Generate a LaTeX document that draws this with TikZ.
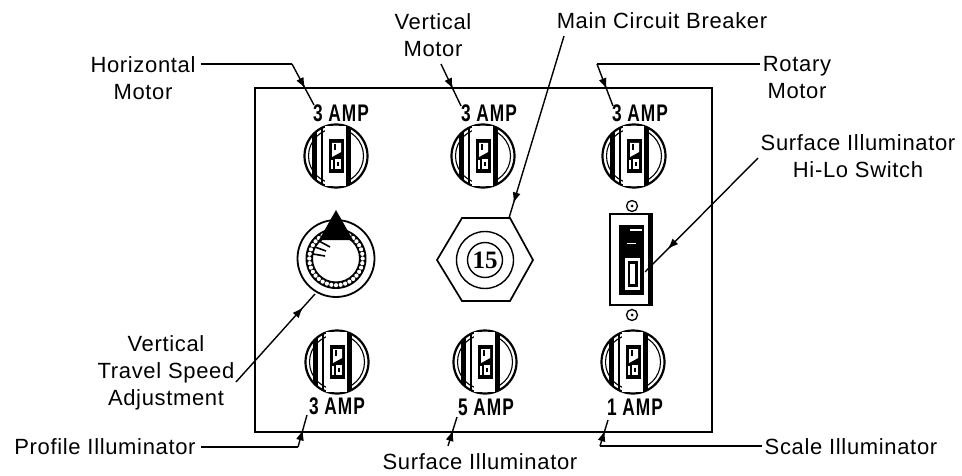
\documentclass[tikz,border=0pt]{standalone}
\usepackage{fontspec}
\setmainfont[LetterSpace=3]{Liberation Sans}
\usetikzlibrary{arrows.meta,decorations.markings}
\newfontfamily\ampfont[LetterSpace=6]{Liberation Sans}
\newcommand{\knobat}[2]{%
  \begin{scope}[shift={(#1,#2)}]
    \begin{scope}
      \clip (0,0) circle (31);
      \fill (10,-32) rectangle (15,32);
      \fill (-24,-24) rectangle (-19,24);
      \fill (-15,-28) rectangle (-13,28);
    \end{scope}
    \draw[line width=2.2pt] (0,0) circle (31.5);
    \draw[line width=1.1pt] (0,0) circle (27.5);
    \fill[white] (-11,-30) rectangle (10,30);
    \fill (-7,-17) rectangle (8,17);
    \fill[white] (-4,-13) -- (5,-13) -- (5,-4) -- (-4,1) -- cycle;
    \fill (-2,-12) rectangle (0,-6);
    \fill[white] (-5,4) rectangle (-3,13);
    \fill[white] (-1,3) rectangle (5,13);
    \fill (1,6) rectangle (3,10);
  \end{scope}}
\tikzset{
  lab/.style={inner sep=0pt,font=\fontsize{22}{27}\selectfont,align=center},
  amp/.style={inner sep=0pt,font=\ampfont\fontsize{24}{24}\selectfont\bfseries,xscale=.72},
  lead/.style={line width=1.4pt},
  headmid/.style={decoration={markings,mark=at position #1 with {\arrow{Latex[length=11pt,width=8pt]}}},postaction={decorate}}
}
\begin{document}
\begin{tikzpicture}[x=1pt,y=-1pt]
\useasboundingbox (0,0) rectangle (962,476);
% panel
\draw[line width=1.8pt] (255,88) -- (712,88) -- (712,432) -- (255,432) -- cycle;
% knobs
\knobat{336}{156}\knobat{483}{156}\knobat{634}{156}
\knobat{337}{362}\knobat{485}{362}\knobat{633}{362}
% amp labels
\node[amp] (a1) at (341,113) {3 AMP};
\node[amp] (a2) at (489,113) {3 AMP};
\node[amp] (a3) at (640,113) {3 AMP};
\node[amp] (a4) at (337,406) {3 AMP};
\node[amp] (a5) at (486,407) {5 AMP};
\node[amp] (a6) at (635,407) {1 AMP};
% dial
\draw[line width=1.8pt] (336,258.5) circle (38.5);
\fill[even odd rule] (336,258.5) circle (30.5) circle (23);
\foreach \a in {0,10,...,350}{\fill[white] (336,258.5) ++(\a:26.7) circle (2.1);}
\fill (336,210) -- (353,240) -- (319,240) -- cycle;
\draw[line width=1.6pt] (313,254) -- (325,256) (315,247) -- (326,251) (319,241) -- (330,247);
\coordinate (dialedge) at (315,294);
% breaker
\draw[line width=1.7pt] (437,260) -- (462,218) -- (510,218) -- (533,260) -- (510,301) -- (462,301) -- cycle;
\coordinate (hextop) at (509,218);
\draw[line width=1.4pt] (485,260) circle (28.5);
\node[circle,draw,line width=1.4pt,minimum size=35pt,inner sep=0pt,font=\fontspec{Liberation Serif}\fontsize{25}{25}\selectfont\bfseries] (fifteen) at (485,260) {15};
% switch
\fill (609,213) rectangle (653,306);
\fill[white] (611,215) rectangle (648,304);
\fill (619,225) rectangle (644,295);
\fill[white] (630,229) rectangle (642,231);
\fill[white] (627,243) rectangle (636,244);
\fill[white] (625,258) rectangle (640,290);
\fill (628,261) rectangle (638,287);
\fill[white] (630,264) rectangle (635,284);
\draw[line width=1.3pt] (632,206) circle (5.5);
\fill (632,206) circle (1.5);
\draw[line width=1.3pt] (632,315) circle (5.5);
\fill (632,315) circle (1.5);
\coordinate (swin) at (645,272);
% labels
\node[lab] (hm) at (143,78) {Horizontal\\Motor};
\node[lab] (vm) at (433,35) {Vertical\\Motor};
\node[lab] (mcb) at (662,21) {Main Circuit Breaker};
\node[lab] (rm) at (797,78) {Rotary\\Motor};
\node[lab] (hilo) at (858,156) {Surface Illuminator\\Hi-Lo Switch};
\node[lab] (vt) at (166,373) {Vertical\\Travel Speed\\Adjustment};
\node[lab] (pi) at (105,447) {Profile Illuminator};
\node[lab] (si) at (480,462) {Surface Illuminator};
\node[lab] (sc) at (851,447) {Scale Illuminator};
% connectors
\coordinate (c1) at (292,64);
\coordinate (e1) at (314,105);
\draw[lead] ([xshift=5]hm.east |- c1) -- (c1);
\draw[lead,headmid=.6] (c1) -- (e1);
\coordinate (s2) at (441,64);
\coordinate (e2) at (461,106);
\draw[lead,headmid=.6] (s2) -- (e2);
\coordinate (m1) at (564,36);
\draw[lead,headmid=.92] (m1) -- (hextop);
\coordinate (c3) at (597,64);
\coordinate (e3) at (613,106);
\draw[lead] ([xshift=-3]rm.west |- c3) -- (c3);
\draw[lead,headmid=.6] (c3) -- (e3);
\coordinate (s4) at (758,158);
\draw[lead,headmid=.8] (s4) -- (swin);
\coordinate (s5) at (236,382);
\draw[lead,headmid=.85] (s5) -- (dialedge);
\coordinate (c6) at (298,447);
\coordinate (e6) at (307,415);
\draw[lead] ([xshift=5]pi.east |- c6) -- (c6);
\draw[lead,headmid=.55] (c6) -- (e6);
\coordinate (s7) at (448,446);
\coordinate (e7) at (457,417);
\draw[lead,headmid=.55] (s7) -- (e7);
\coordinate (c8) at (600,446);
\coordinate (e8) at (608,420);
\draw[lead] ([xshift=-3]sc.west |- c8) -- (c8);
\draw[lead,headmid=.6] (c8) -- (e8);
\end{tikzpicture}
\end{document}
